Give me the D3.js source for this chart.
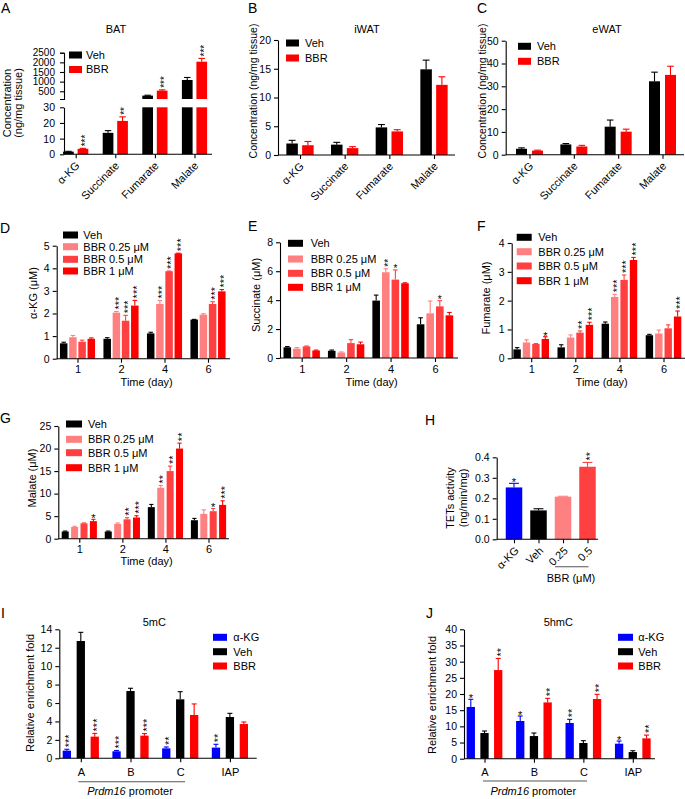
<!DOCTYPE html>
<html><head><meta charset="utf-8">
<script src="https://cdn.jsdelivr.net/npm/d3@7"></script>
<style>
body{margin:0;background:#fff}
svg{display:block}
text{font-family:"Liberation Sans",Arial,sans-serif;fill:#000}
</style>
</head><body>
<svg id="c" width="685" height="799"></svg>
<script>
// ---------------- DATA ----------------
const metabolites = ["α-KG","Succinate","Fumarate","Malate"];
const tissueSeries = ["Veh","BBR"];
// A: BAT
const batVeh = [1.7, 13.7, 276, 1086];
const batVehErr = [0.2, 1.4, 20, 130];
const batBBR = [3.5, 21.3, 534, 2034];
const batBBRErr = [0.3, 2.6, 40, 170];
const batBBRStars = ["***","**","***","***"];
const batLowTicks = [0,10,20,30];
const batHighTicks = [500,1000,1500,2000,2500];
// B: iWAT
const iwatVeh = [2.0, 1.8, 4.8, 14.9];
const iwatVehErr = [0.55, 0.4, 0.5, 1.6];
const iwatBBR = [1.7, 1.2, 4.1, 12.2];
const iwatBBRErr = [0.65, 0.25, 0.3, 1.4];
const iwatTicks = [0,5,10,15,20];
// C: eWAT
const ewatVeh = [2.6, 4.5, 12.3, 32.2];
const ewatVehErr = [0.4, 0.4, 2.9, 4.0];
const ewatBBR = [1.8, 3.6, 10.1, 35.0];
const ewatBBRErr = [0.2, 0.5, 1.1, 3.8];
const ewatTicks = [0,10,20,30,40,50];

const days = ["1","2","4","6"];
const doseSeries = ["Veh","BBR 0.25 μM","BBR 0.5 μM","BBR 1 μM"];
// D: α-KG
const akgVeh = [0.68, 0.88, 1.12, 1.73], akgVehErr = [0.05, 0.05, 0.05, 0.01];
const akgB025 = [0.95, 2.04, 2.42, 1.95], akgB025Err = [0.08, 0.05, 0.15, 0.04];
const akgB05 = [0.75, 1.68, 3.87, 2.42], akgB05Err = [0.07, 0.24, 0.01, 0.1];
const akgB1 = [0.88, 2.35, 4.66, 2.98], akgB1Err = [0.04, 0.23, 0.01, 0.08];
const akgB025Stars = ["","***","***",""], akgB05Stars = ["","***","***","***"], akgB1Stars = ["","***","***","***"];
const akgTicks = [0,1,2,3,4,5];
// E: Succinate
const sucVeh = [0.74, 0.5, 3.97, 2.33], sucVehErr = [0.05, 0.05, 0.38, 0.45];
const sucB025 = [0.65, 0.38, 5.93, 3.09], sucB025Err = [0.07, 0.04, 0.24, 0.85];
const sucB05 = [0.8, 1.03, 5.42, 3.57], sucB05Err = [0.03, 0.24, 0.67, 0.39];
const sucB1 = [0.52, 0.95, 5.17, 2.95], sucB1Err = [0.03, 0.15, 0.03, 0.2];
const sucB025Stars = ["","","**",""], sucB05Stars = ["","","*","*"], sucB1Stars = ["","","",""];
const sucTicks = [0,2,4,6,8];
// F: Fumarate
const fumVeh = [0.31, 0.38, 1.2, 0.8], fumVehErr = [0.06, 0.09, 0.06, 0.03];
const fumB025 = [0.55, 0.72, 2.13, 0.86], fumB025Err = [0.09, 0.09, 0.09, 0.12];
const fumB05 = [0.5, 0.89, 2.72, 1.04], fumB05Err = [0.01, 0.06, 0.17, 0.12];
const fumB1 = [0.67, 1.16, 3.41, 1.45], fumB1Err = [0.08, 0.09, 0.09, 0.19];
const fumB025Stars = ["","","***",""], fumB05Stars = ["","**","***",""], fumB1Stars = ["*","***","***","***"];
const fumTicks = [0,1,2,3,4];
// G: Malate
const malVeh = [1.6, 1.6, 7.0, 4.1], malVehErr = [0.1, 0.1, 0.6, 0.4];
const malB025 = [2.6, 3.3, 11.3, 5.5], malB025Err = [0.15, 0.2, 0.5, 0.9];
const malB05 = [3.4, 4.3, 15.0, 6.1], malB05Err = [0.1, 0.35, 1.1, 0.6];
const malB1 = [3.9, 4.7, 20.0, 7.5], malB1Err = [0.4, 0.4, 1.2, 0.9];
const malB025Stars = ["","","**",""], malB05Stars = ["","**","**","*"], malB1Stars = ["*","***","**","***"];
const malTicks = [0,5,10,15,20,25];
// H: TETs activity
const tetCats = ["α-KG","Veh","0.25","0.5"];
const tetValues = [0.253, 0.141, 0.208, 0.354];
const tetErr = [0.02, 0.008, 0.002, 0.021];
const tetStars = ["*","","","**"];
const tetTicks = [0,0.1,0.2,0.3,0.4];
// I, J
const regions = ["A","B","C","IAP"];
const chipSeries = ["α-KG","Veh","BBR"];
const mcAkg = [0.83, 0.76, 1.08, 1.16], mcAkgErr = [0.15, 0.09, 0.15, 0.36], mcAkgStars = ["***","***","**","**"];
const mcVeh = [12.73, 7.3, 6.4, 4.48], mcVehErr = [0.94, 0.3, 0.83, 0.4];
const mcBBR = [2.35, 2.46, 4.7, 3.72], mcBBRErr = [0.35, 0.22, 1.2, 0.22], mcBBRStars = ["***","***","",""];
const mcTicks = [0,2,4,6,8,10,12,14];
const hmcAkg = [16.0, 11.65, 11.03, 4.64], hmcAkgErr = [2.35, 1.55, 1.13, 0.82], hmcAkgStars = ["*","*","**","*"];
const hmcVeh = [7.94, 7.0, 4.85, 2.06], hmcVehErr = [0.62, 0.94, 0.72, 0.41];
const hmcBBR = [27.4, 17.4, 18.45, 6.29], hmcBBRErr = [3.6, 1.26, 1.45, 1.0], hmcBBRStars = ["**","**","**","**"];
const hmcTicks = [0,5,10,15,20,25,30,35,40];

// ---------------- STYLE ----------------
const C_BLACK = "#000000", C_RED = "#ff0000", C_BLUE = "#0000ff", C_SALMON = "#ff8080", C_MID = "#ff4040";
const FONT = 11, TICKF = 10.5;
const svg = d3.select("#c");

function styleAxis(a, fs) {
  a.selectAll("path,line").attr("stroke", "#000").attr("stroke-width", 1.1);
  a.selectAll("text").attr("font-size", fs || TICKF).attr("font-family", '"Liberation Sans",Arial,sans-serif').attr("fill", "#000");
  a.attr("font-family", null).attr("font-size", null);
}
function star(g, cx, ytop, txt, fs) {
  if (!txt) return;
  if (txt.length === 1) {
    g.append("text").attr("x", cx).attr("y", ytop - 2 + fs * 0.45).attr("text-anchor", "middle")
      .attr("font-size", fs).text(txt);
  } else {
    g.append("text").attr("transform", `translate(${cx + fs * 0.58},${ytop - 2}) rotate(-90)`)
      .attr("font-size", fs).text(txt);
  }
}
function errBar(g, cx, y0, y1, w, color) {
  g.append("line").attr("x1", cx).attr("x2", cx).attr("y1", y0).attr("y2", y1).attr("stroke", color).attr("stroke-width", 1.1);
  g.append("line").attr("x1", cx - w / 2).attr("x2", cx + w / 2).attr("y1", y1).attr("y2", y1).attr("stroke", color).attr("stroke-width", 1.1);
}
function legend(items, x, ys, rw, rh, tx, fs) {
  const g = svg.append("g");
  items.forEach((it, i) => {
    g.append("rect").attr("x", x).attr("y", ys[i] - rh / 2).attr("width", rw).attr("height", rh).attr("fill", it.color);
    g.append("text").attr("x", tx).attr("y", ys[i] + fs * 0.36).attr("font-size", fs).text(it.name);
  });
}
function yLabel(x, y, lines, fs) {
  lines.forEach((l, i) => {
    svg.append("text").attr("transform", `translate(${x[i]},${y}) rotate(-90)`).attr("text-anchor", "middle")
      .attr("font-size", fs || FONT).text(l);
  });
}
function txt(x, y, s, fs, anchor) {
  return svg.append("text").attr("x", x).attr("y", y).attr("font-size", fs).attr("text-anchor", anchor || "middle").text(s);
}

function grouped(o) {
  const g = svg.append("g");
  const y = d3.scaleLinear().domain(o.yDomain).range(o.yRange);
  const xc = d3.scalePoint().domain(o.groups).range(o.centers);
  const n = o.series.length;
  const pi = 1 - o.barW / o.subStep;
  const xs = d3.scaleBand().domain(o.series.map(s => s.name))
    .range([-o.subStep * n / 2, o.subStep * n / 2]).paddingInner(pi).paddingOuter(pi / 2);
  const bw = xs.bandwidth();
  o.series.forEach(s => {
    const sg = g.append("g");
    const data = o.groups.map((grp, i) => ({ grp, v: s.values[i], e: s.errors ? s.errors[i] : 0, st: s.stars ? s.stars[i] : "" }));
    sg.selectAll("rect").data(data).join("rect")
      .attr("x", d => xc(d.grp) + xs(s.name)).attr("width", bw)
      .attr("y", d => y(d.v)).attr("height", d => y(0) - y(d.v)).attr("fill", s.color);
    data.forEach(d => {
      const cx = xc(d.grp) + xs(s.name) + bw / 2;
      if (d.e > 0) errBar(sg, cx, y(d.v), y(d.v + d.e), bw * 0.6, s.color);
      star(sg, cx, y(d.v + d.e), d.st, o.starSize || 11);
    });
  });
  const ya = g.append("g").attr("transform", `translate(${o.xAxis[0]},0)`)
    .call(d3.axisLeft(y).tickValues(o.yTicks).tickSize(4).tickSizeOuter(0).tickFormat(o.fmt || d3.format("d")));
  styleAxis(ya);
  g.append("line").attr("x1", o.xAxis[0]).attr("x2", o.xAxis[1]).attr("y1", y(0)).attr("y2", y(0))
    .attr("stroke", "#000").attr("stroke-width", 1.1);
  const xa = g.append("g").attr("transform", `translate(0,${y(0)})`)
    .call(d3.axisBottom(xc).tickSize(4).tickSizeOuter(0).tickPadding(o.xPad || 3));
  xa.select(".domain").remove();
  styleAxis(xa, o.xFont || FONT);
  return { g, y, xc, xa };
}
function rotateLabels(xa, dx, dy) {
  xa.selectAll(".tick text").attr("text-anchor", "end").attr("dy", null).attr("y", null)
    .attr("transform", `translate(${dx},${dy}) rotate(-45)`);
}

// ---------------- PANEL A (broken axis) ----------------
(function () {
  const g = svg.append("g");
  const yLow = d3.scaleLinear().domain([0, 30]).range([154.3, 107.3]);
  const yHigh = d3.scaleLinear().domain([100, 2500]).range([99, 52.7]);
  const xc = d3.scalePoint().domain(metabolites).range([75.7, 194.5]);
  const pi = 1 - 10.7 / 14.5;
  const xs = d3.scaleBand().domain(tissueSeries).range([-14.5, 14.5]).paddingInner(pi).paddingOuter(pi / 2);
  const bw = xs.bandwidth();
  const ser = [
    { name: "Veh", color: C_BLACK, values: batVeh, errors: batVehErr, stars: null },
    { name: "BBR", color: C_RED, values: batBBR, errors: batBBRErr, stars: batBBRStars }
  ];
  ser.forEach(s => {
    metabolites.forEach((m, i) => {
      const v = s.values[i], e = s.errors[i];
      const x = xc(m) + xs(s.name), cx = x + bw / 2;
      let topY;
      if (v <= 30) {
        g.append("rect").attr("x", x).attr("width", bw).attr("y", yLow(v)).attr("height", yLow(0) - yLow(v)).attr("fill", s.color);
        errBar(g, cx, yLow(v), yLow(v + e), bw * 0.6, s.color);
        topY = yLow(v + e);
      } else {
        g.append("rect").attr("x", x).attr("width", bw).attr("y", yLow(30)).attr("height", yLow(0) - yLow(30)).attr("fill", s.color);
        g.append("rect").attr("x", x).attr("width", bw).attr("y", yHigh(v)).attr("height", yHigh(100) - yHigh(v)).attr("fill", s.color);
        errBar(g, cx, yHigh(v), yHigh(v + e), bw * 0.6, s.color);
        topY = yHigh(v + e);
      }
      if (s.stars) star(g, cx, topY, s.stars[i], 10);
    });
  });
  const a1 = g.append("g").attr("transform", "translate(64,0)")
    .call(d3.axisLeft(yLow).tickValues(batLowTicks).tickSize(4).tickSizeOuter(0).tickPadding(5).tickFormat(d3.format("d")));
  styleAxis(a1);
  const a2 = g.append("g").attr("transform", "translate(64,0)")
    .call(d3.axisLeft(yHigh).tickValues(batHighTicks).tickSize(4).tickSizeOuter(4).tickPadding(5).tickFormat(d3.format("d")));
  styleAxis(a2, 10);
  g.append("line").attr("x1", 64).attr("x2", 212).attr("y1", yLow(0)).attr("y2", yLow(0)).attr("stroke", "#000").attr("stroke-width", 1.1);
  const xa = g.append("g").attr("transform", `translate(0,${yLow(0)})`).call(d3.axisBottom(xc).tickSize(4).tickSizeOuter(0));
  xa.select(".domain").remove();
  styleAxis(xa, FONT);
  rotateLabels(xa, 4, 12);
})();
txt(1, 13, "A", 14, "start");
txt(116, 33, "BAT", FONT);
yLabel([11, 22], 103, ["Concentration", "(ng/mg tissue)"]);
legend([{ name: "Veh", color: C_BLACK }, { name: "BBR", color: C_RED }], 69, [55, 69.5], 13, 7, 86, FONT);

// ---------------- PANEL B ----------------
let pB = grouped({ groups: metabolites, yDomain: [0, 20], yRange: [155, 40], yTicks: iwatTicks,
  xAxis: [278, 455], centers: [300, 434], subStep: 15.8, barW: 11.5,
  series: [{ name: "Veh", color: C_BLACK, values: iwatVeh, errors: iwatVehErr },
           { name: "BBR", color: C_RED, values: iwatBBR, errors: iwatBBRErr }] });
rotateLabels(pB.xa, 4, 12);
txt(248, 13, "B", 14, "start");
txt(367, 33, "iWAT", FONT);
yLabel([257], 91, ["Concentration (ng/mg tissue)"], 10.5);
legend([{ name: "Veh", color: C_BLACK }, { name: "BBR", color: C_RED }], 286, [43, 58], 13, 7, 305, FONT);

// ---------------- PANEL C ----------------
let pC = grouped({ groups: metabolites, yDomain: [0, 50], yRange: [154.7, 40.7], yTicks: ewatTicks,
  xAxis: [505.7, 684], centers: [529.5, 662.5], subStep: 16, barW: 11,
  series: [{ name: "Veh", color: C_BLACK, values: ewatVeh, errors: ewatVehErr },
           { name: "BBR", color: C_RED, values: ewatBBR, errors: ewatBBRErr }] });
rotateLabels(pC.xa, 4, 12);
txt(477, 13, "C", 14, "start");
txt(607, 33, "eWAT", FONT);
yLabel([486], 91, ["Concentration (ng/mg tissue)"], 10.5);
legend([{ name: "Veh", color: C_BLACK }, { name: "BBR", color: C_RED }], 518, [46.3, 61.3], 13, 7, 537, FONT);

const doseColors = [C_BLACK, C_SALMON, C_MID, C_RED];
const doseLegend = doseSeries.map((n, i) => ({ name: n, color: doseColors[i] }));
function doseSer(v, e, s) {
  return doseSeries.map((n, i) => ({ name: n, color: doseColors[i], values: v[i], errors: e[i], stars: s[i] }));
}
// ---------------- PANEL D ----------------
grouped({ groups: days, yDomain: [0, 5], yRange: [358.7, 245.7], yTicks: akgTicks,
  xAxis: [56.7, 230], centers: [77.5, 208], subStep: 9.2, barW: 7.5, starSize: 11,
  series: doseSer([akgVeh, akgB025, akgB05, akgB1], [akgVehErr, akgB025Err, akgB05Err, akgB1Err], [null, akgB025Stars, akgB05Stars, akgB1Stars]) });
txt(0, 233, "D", 14, "start");
yLabel([36.5], 293, ["α-KG  (μM)"]);
txt(146.7, 386, "Time (day)", FONT);
legend(doseLegend, 63, [235, 246.7, 259.3, 271], 15, 7, 83.3, FONT);

// ---------------- PANEL E ----------------
grouped({ groups: days, yDomain: [0, 8], yRange: [358, 242.3], yTicks: sucTicks,
  xAxis: [280, 458], centers: [301.7, 435], subStep: 9.6, barW: 7.6, starSize: 10,
  series: doseSer([sucVeh, sucB025, sucB05, sucB1], [sucVehErr, sucB025Err, sucB05Err, sucB1Err], [null, sucB025Stars, sucB05Stars, sucB1Stars]) });
txt(248, 231, "E", 14, "start");
yLabel([260], 295, ["Succinate (μM)"]);
txt(371.7, 386, "Time (day)", FONT);
legend(doseLegend, 288, [243.3, 259, 273.3, 287.3], 15, 7, 310.7, FONT);

// ---------------- PANEL F ----------------
grouped({ groups: days, yDomain: [0, 4], yRange: [358.3, 243], yTicks: fumTicks,
  xAxis: [511.7, 685], centers: [531.2, 663.5], subStep: 9.4, barW: 7.4, starSize: 11,
  series: doseSer([fumVeh, fumB025, fumB05, fumB1], [fumVehErr, fumB025Err, fumB05Err, fumB1Err], [null, fumB025Stars, fumB05Stars, fumB1Stars]) });
txt(477, 231, "F", 14, "start");
yLabel([490], 298, ["Fumarate (μM)"]);
txt(601.7, 386, "Time (day)", FONT);
legend(doseLegend, 516.7, [237.3, 251.7, 266, 280.7], 15, 7, 538.3, FONT);

// ---------------- PANEL G ----------------
grouped({ groups: days, yDomain: [0, 25], yRange: [538.7, 426], yTicks: malTicks,
  xAxis: [58.3, 229], centers: [79.3, 208.5], subStep: 9.4, barW: 7, starSize: 11,
  series: doseSer([malVeh, malB025, malB05, malB1], [malVehErr, malB025Err, malB05Err, malB1Err], [null, malB025Stars, malB05Stars, malB1Stars]) });
txt(0, 423, "G", 14, "start");
yLabel([35.5], 478, ["Malate (μM)"]);
txt(146.7, 565, "Time (day)", FONT);
legend(doseLegend, 66, [424, 439.3, 452.7, 467.7], 16, 7, 88, FONT);

// ---------------- PANEL H ----------------
(function () {
  const g = svg.append("g");
  const tetColors = [C_BLUE, C_BLACK, C_SALMON, C_MID];
  const y = d3.scaleLinear().domain([0, 0.4]).range([539.3, 457.3]);
  const xc = d3.scalePoint().domain(tetCats).range([514, 587.5]);
  const bw = 16.5;
  tetCats.forEach((c, i) => {
    const cx = xc(c);
    g.append("rect").attr("x", cx - bw / 2).attr("width", bw).attr("y", y(tetValues[i])).attr("height", y(0) - y(tetValues[i])).attr("fill", tetColors[i]);
    errBar(g, cx, y(tetValues[i]), y(tetValues[i] + tetErr[i]), bw * 0.6, tetColors[i]);
    star(g, cx, y(tetValues[i] + tetErr[i]), tetStars[i], 11);
  });
  const ya = g.append("g").attr("transform", "translate(496.7,0)")
    .call(d3.axisLeft(y).tickValues(tetTicks).tickSize(4).tickSizeOuter(0).tickFormat(d3.format(".1f")));
  styleAxis(ya);
  g.append("line").attr("x1", 496.7).attr("x2", 598).attr("y1", y(0)).attr("y2", y(0)).attr("stroke", "#000").attr("stroke-width", 1.1);
  const xa = g.append("g").attr("transform", `translate(0,${y(0)})`).call(d3.axisBottom(xc).tickSize(4).tickSizeOuter(0));
  xa.select(".domain").remove();
  styleAxis(xa, FONT);
  rotateLabels(xa, 5, 12);
  g.append("line").attr("x1", xc("0.25") - 8).attr("x2", xc("0.5") + 1).attr("y1", 566.7).attr("y2", 566.7).attr("stroke", "#555").attr("stroke-width", 1.1);
})();
txt(425, 425, "H", 14, "start");
yLabel([454, 466.5], 498, ["TETs activity", "(ng/min/mg)"]);
txt(571, 582, "BBR (μM)", FONT);

// ---------------- PANEL I ----------------
const chipColors = [C_BLUE, C_BLACK, C_RED];
const chipLegend = chipSeries.map((n, i) => ({ name: n, color: chipColors[i] }));
grouped({ groups: regions, yDomain: [0, 14], yRange: [758.3, 629.3], yTicks: mcTicks,
  xAxis: [59.3, 256.7], centers: [80.8, 229.9], subStep: 13.95, barW: 8.3, starSize: 11, xPad: 6,
  series: [{ name: "α-KG", color: C_BLUE, values: mcAkg, errors: mcAkgErr, stars: mcAkgStars },
           { name: "Veh", color: C_BLACK, values: mcVeh, errors: mcVehErr },
           { name: "BBR", color: C_RED, values: mcBBR, errors: mcBBRErr, stars: mcBBRStars }] });
txt(1, 618, "I", 14, "start");
txt(154.3, 626, "5mC", FONT);
yLabel([34], 693, ["Relative enrichment fold"]);
legend(chipLegend, 213, [637.3, 651.7, 666], 14, 7, 233.3, FONT);
svg.append("line").attr("x1", 78.3).attr("x2", 185).attr("y1", 781.7).attr("y2", 781.7).attr("stroke", "#555").attr("stroke-width", 1.1);
(function () {
  const t = txt(130, 795, "", FONT);
  t.append("tspan").attr("font-style", "italic").text("Prdm16");
  t.append("tspan").text(" promoter");
})();

// ---------------- PANEL J ----------------
grouped({ groups: regions, yDomain: [0, 40], yRange: [758.7, 629.3], yTicks: hmcTicks,
  xAxis: [464, 655], centers: [484.5, 632.8], subStep: 13.7, barW: 8.3, starSize: 11, xPad: 6,
  series: [{ name: "α-KG", color: C_BLUE, values: hmcAkg, errors: hmcAkgErr, stars: hmcAkgStars },
           { name: "Veh", color: C_BLACK, values: hmcVeh, errors: hmcVehErr },
           { name: "BBR", color: C_RED, values: hmcBBR, errors: hmcBBRErr, stars: hmcBBRStars }] });
txt(426, 618, "J", 14, "start");
txt(558.3, 626, "5hmC", FONT);
yLabel([436], 695, ["Relative enrichment fold"]);
legend(chipLegend, 618, [637.3, 651.7, 666], 15, 7, 638.3, FONT);
svg.append("line").attr("x1", 483).attr("x2", 587).attr("y1", 781).attr("y2", 781).attr("stroke", "#555").attr("stroke-width", 1.1);
(function () {
  const t = txt(533.3, 795, "", FONT);
  t.append("tspan").attr("font-style", "italic").text("Prdm16");
  t.append("tspan").text(" promoter");
})();
</script>
</body></html>
